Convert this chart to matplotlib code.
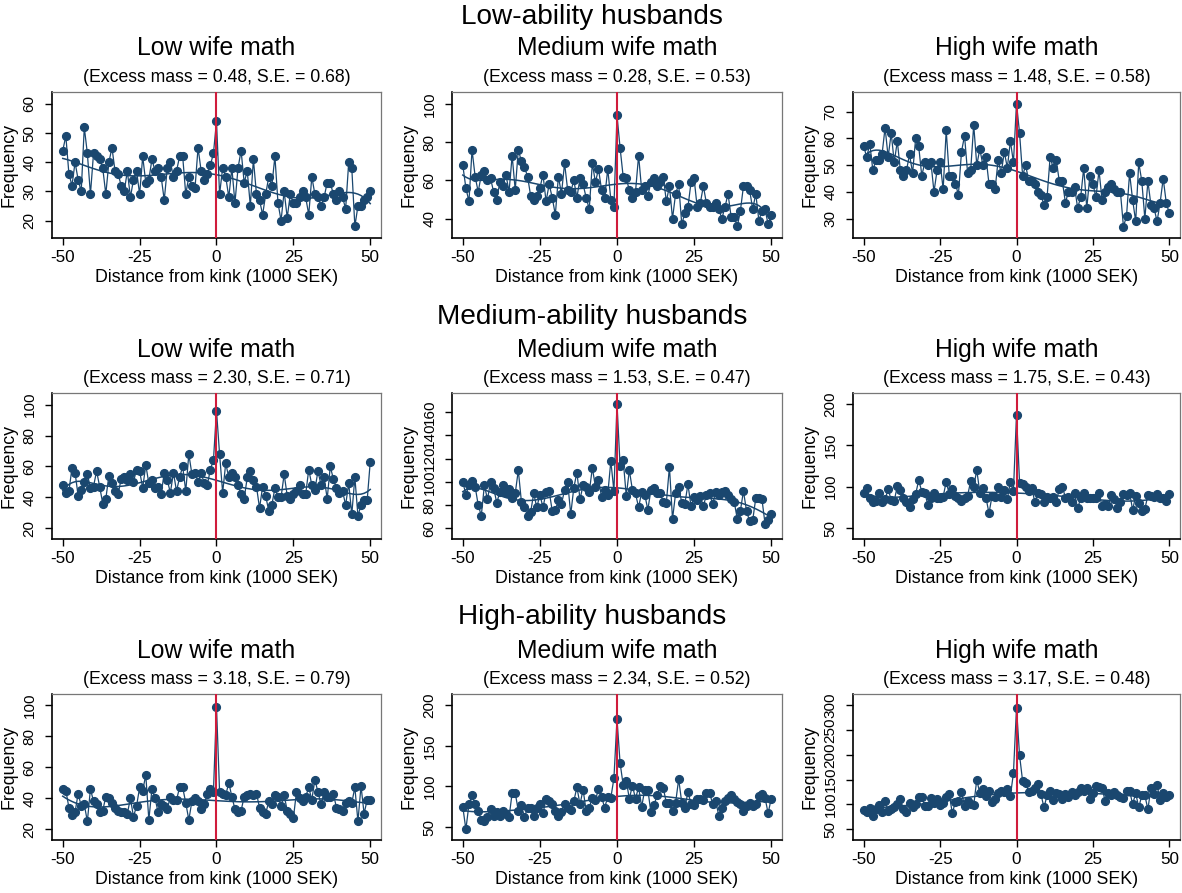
import numpy as np
import matplotlib
matplotlib.use("Agg")
import matplotlib.pyplot as plt

plt.rcParams['font.family'] = ['Liberation Sans', 'DejaVu Sans']

NAVY = "#1a476f"
RED = "#d01c3c"

distance = np.arange(-50, 51)

row_titles = ["Low-ability husbands", "Medium-ability husbands", "High-ability husbands"]
col_titles = ["Low wife math", "Medium wife math", "High wife math"]

excess_mass = [[0.48, 0.28, 1.48],
               [2.30, 1.53, 1.75],
               [3.18, 2.34, 3.17]]
std_err = [[0.68, 0.53, 0.58],
           [0.71, 0.47, 0.43],
           [0.79, 0.52, 0.48]]

# Bin counts, x = -50 ... 50
low_low = [44, 49, 36, 32, 40, 34, 30, 52, 43, 29, 43, 42, 41, 38, 29, 40, 45,
           37, 36, 32, 30, 37, 28, 34, 37, 29, 42, 33, 34, 41, 37, 38, 35, 27,
           38, 40, 35, 37, 42, 42, 29, 35, 32, 31, 45, 37, 34, 36, 39, 43,
           54, 29, 38, 35, 28, 38, 26, 38, 44, 33, 37, 25, 41, 29, 27, 22, 29,
           35, 32, 42, 26, 20, 30, 21, 29, 26, 26, 28, 30, 28, 22, 35, 29, 28,
           25, 28, 33, 33, 29, 27, 30, 28, 24, 40, 38, 18, 25, 25, 27, 28, 30]
low_med = [68, 56, 49, 76, 62, 54, 63, 65, 60, 61, 54, 50, 59, 57, 63, 54, 73,
           55, 76, 70, 67, 62, 52, 50, 52, 56, 63, 49, 58, 51, 42, 62, 53, 69,
           55, 54, 60, 51, 61, 58, 51, 45, 69, 59, 66, 55, 51, 66, 50, 46,
           94, 77, 62, 61, 55, 51, 54, 73, 55, 57, 52, 59, 61, 57, 59, 62, 49,
           57, 40, 53, 58, 37, 43, 46, 59, 61, 46, 48, 57, 48, 46, 46, 48, 45,
           40, 46, 53, 41, 41, 36, 44, 57, 57, 55, 45, 53, 39, 44, 45, 37, 42]
low_high = [57, 53, 58, 48, 52, 52, 54, 64, 53, 62, 51, 59, 48, 46, 48, 54, 47,
            60, 57, 46, 51, 50, 51, 40, 48, 51, 41, 63, 46, 46, 43, 39, 55, 61,
            47, 48, 65, 50, 56, 50, 53, 43, 43, 41, 52, 47, 55, 49, 59, 51,
            73, 62, 46, 50, 44, 44, 43, 40, 39, 35, 38, 53, 49, 52, 44, 44, 36,
            40, 40, 42, 34, 38, 49, 34, 46, 43, 38, 48, 37, 40, 42, 43, 41, 40,
            40, 27, 31, 47, 37, 29, 51, 44, 30, 44, 35, 34, 29, 36, 45, 36, 32]
med_low = [48, 43, 44, 59, 56, 41, 45, 50, 55, 46, 47, 57, 47, 36, 39, 54, 49,
           44, 42, 52, 53, 51, 55, 50, 58, 57, 46, 61, 49, 51, 46, 47, 42, 56,
           51, 43, 56, 44, 53, 60, 44, 68, 55, 56, 50, 56, 49, 48, 58, 64,
           96, 68, 43, 62, 53, 56, 53, 48, 42, 39, 53, 57, 51, 47, 33, 47, 41,
           31, 35, 46, 40, 40, 55, 41, 39, 42, 44, 48, 42, 42, 58, 48, 45, 57,
           48, 53, 39, 60, 52, 46, 43, 44, 35, 49, 29, 53, 28, 35, 38, 38, 63]
med_med = [100, 89, 97, 101, 96, 80, 71, 97, 85, 100, 95, 82, 91, 97, 90, 94,
           86, 90, 110, 83, 78, 71, 74, 90, 78, 89, 78, 91, 92, 75, 76, 84, 81,
           93, 100, 72, 95, 108, 85, 97, 96, 91, 112, 96, 102, 87, 93, 89, 118,
           92, 167, 114, 119, 88, 110, 93, 90, 78, 91, 89, 76, 93, 95, 90, 90,
           83, 82, 113, 68, 90, 96, 82, 81, 98, 79, 87, 84, 88, 79, 89, 90, 81,
           91, 89, 91, 92, 89, 85, 83, 68, 75, 92, 75, 66, 67, 86, 86, 85, 64,
           67, 72]
med_high = [93, 98, 87, 82, 83, 92, 82, 85, 97, 84, 83, 101, 96, 86, 82, 76, 85,
            91, 108, 94, 93, 78, 86, 93, 86, 87, 88, 106, 91, 97, 89, 86, 83,
            86, 89, 107, 100, 120, 93, 98, 87, 68, 89, 88, 100, 88, 96, 85, 106,
            95, 187, 105, 103, 100, 95, 99, 81, 93, 91, 82, 88, 86, 88, 82, 97,
            100, 87, 88, 82, 92, 74, 86, 92, 86, 86, 87, 86, 92, 77, 79, 77, 90,
            85, 74, 82, 91, 90, 93, 72, 89, 80, 71, 73, 90, 89, 88, 91, 86, 87,
            83, 91]
high_low = [46, 45, 34, 29, 31, 43, 35, 36, 25, 46, 38, 36, 31, 32, 41, 40, 37,
            34, 32, 31, 31, 30, 40, 28, 35, 47, 45, 55, 26, 46, 40, 31, 36, 35,
            33, 41, 39, 39, 47, 47, 37, 26, 38, 40, 38, 33, 36, 43, 46, 44,
            99, 44, 43, 42, 50, 41, 33, 31, 32, 41, 42, 43, 42, 43, 34, 31, 30,
            38, 36, 42, 41, 35, 42, 32, 30, 27, 44, 40, 38, 41, 47, 39, 52, 44,
            36, 44, 41, 41, 43, 34, 33, 32, 37, 38, 37, 47, 25, 48, 30, 39, 39]
high_med = [75, 47, 78, 89, 78, 70, 59, 58, 62, 72, 63, 69, 64, 70, 66, 62, 92,
            92, 70, 77, 62, 74, 74, 64, 74, 78, 67, 84, 82, 79, 70, 64, 69, 79,
            73, 71, 82, 99, 78, 96, 70, 74, 86, 83, 97, 87, 74, 87, 86, 110,
            183, 129, 102, 107, 85, 101, 85, 99, 75, 96, 96, 68, 77, 89, 101,
            98, 80, 80, 70, 80, 109, 80, 74, 93, 79, 77, 85, 84, 83, 92, 92, 79,
            82, 64, 73, 82, 86, 89, 84, 81, 78, 70, 76, 80, 76, 78, 88, 91, 86,
            67, 85]
high_high = [89, 85, 93, 77, 90, 99, 84, 106, 87, 91, 95, 100, 111, 90, 84, 103,
             94, 100, 115, 115, 96, 97, 112, 103, 111, 98, 103, 115, 120, 82,
             105, 106, 125, 97, 107, 101, 98, 150, 122, 132, 116, 128, 104, 111,
             122, 128, 125, 132, 117, 163, 295, 199, 147, 144, 125, 127, 134,
             142, 120, 94, 118, 128, 108, 123, 121, 111, 120, 115, 125, 118, 124,
             133, 127, 133, 110, 122, 138, 135, 133, 107, 122, 118, 124, 118,
             115, 112, 126, 128, 100, 123, 94, 118, 118, 90, 134, 120, 139, 108,
             123, 115, 118]

counts = [[low_low, low_med, low_high],
          [med_low, med_med, med_high],
          [high_low, high_med, high_high]]

y_ticks = [[[20, 30, 40, 50, 60], [40, 60, 80, 100], [30, 40, 50, 60, 70]],
           [[20, 40, 60, 80, 100], [60, 80, 100, 120, 140, 160], [50, 100, 150, 200]],
           [[20, 40, 60, 80, 100], [50, 100, 150, 200], [50, 100, 150, 200, 250, 300]]]
y_limits = [[(14, 64.1), (29.9, 106.2), (22.8, 77.3)],
            [(13, 107.6), (50.8, 176.5), (37, 213)],
            [(13, 107.4), (34, 214), (28, 323)]]


def counterfactual(x, y, deg=7, excl=(-1, 2)):
    """Polynomial fit to the bin counts outside the excluded window."""
    x = np.asarray(x, float)
    y = np.asarray(y, float)
    keep = (x < excl[0]) | (x > excl[1])
    xs = x / 50.0
    coef = np.polyfit(xs[keep], y[keep], deg)
    return np.polyval(coef, xs)


W, H = 1182, 893
fig = plt.figure(figsize=(W / 100, H / 100), dpi=100)
fig.patch.set_facecolor("white")

col_left = [52, 452, 853]
col_width = [329, 330, 327]
row_top = [92, 393, 694]
row_height = 146
row_title_y = [17, 317, 617]
panel_title_y = [48, 350, 651]
sub_title_y = [77, 378, 679]

for r in range(3):
    fig.text(592 / W, 1 - row_title_y[r] / H, row_titles[r], ha="center",
             va="center", fontsize=20.2, color="black")
    for c in range(3):
        left = col_left[c] / W
        bottom = 1 - (row_top[r] + row_height) / H
        ax = fig.add_axes([left, bottom, col_width[c] / W, row_height / H])
        y = np.asarray(counts[r][c], float)
        fit = counterfactual(distance, y)

        ax.plot(distance, y, color=NAVY, lw=0.9, marker="o", ms=5.6,
                mec=NAVY, mfc=NAVY, zorder=3)
        ax.plot(distance, fit, color=NAVY, lw=1.1, zorder=2)
        ax.axvline(0, color=RED, lw=1.5, zorder=4)

        ax.set_xlim(-53.5, 53.5)
        ax.set_ylim(*y_limits[r][c])
        ax.set_xticks([-50, -25, 0, 25, 50])
        ax.set_xticklabels(["-50", "-25", "0", "25", "50"])
        ax.set_yticks(y_ticks[r][c])
        ax.tick_params(axis="x", labelsize=12.3, length=5, width=1, pad=3.5)
        ax.tick_params(axis="y", labelsize=11, length=5, width=1, pad=6,
                       labelrotation=90)
        for lab in ax.get_yticklabels():
            lab.set_va("center")
        ax.set_xlabel("Distance from kink (1000 SEK)", fontsize=12.8, labelpad=3)
        ax.set_ylabel("Frequency", fontsize=12.8, labelpad=4)

        for side in ("left", "bottom"):
            ax.spines[side].set_color("black")
            ax.spines[side].set_linewidth(1.2)
        for side in ("top", "right"):
            ax.spines[side].set_color("#777777")
            ax.spines[side].set_linewidth(0.9)

        cx = (col_left[c] + col_width[c] / 2) / W
        fig.text(cx, 1 - panel_title_y[r] / H, col_titles[c], ha="center",
                 va="center", fontsize=17.8)
        fig.text(cx, 1 - sub_title_y[r] / H,
                 f"(Excess mass = {excess_mass[r][c]:.2f}, S.E. = {std_err[r][c]:.2f})",
                 ha="center", va="center", fontsize=12.7)

fig.savefig("out.png", dpi=100, facecolor="white")
